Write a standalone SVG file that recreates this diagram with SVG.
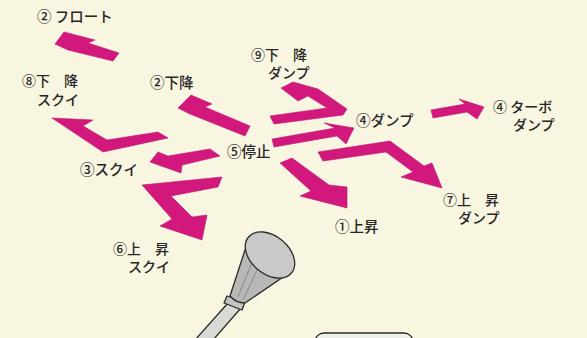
<svg xmlns="http://www.w3.org/2000/svg" width="587" height="338" viewBox="0 0 587 338">
  <style>
    .lbl { font-family: "Noto Sans CJK JP", "Noto Sans", sans-serif; font-size: 14.5px; font-weight: 500; fill: #262626; }
    .two { font-size: 14px; }
    .arw { fill: #d2177d; stroke: #c0146f; stroke-width: 0.6; stroke-linejoin: miter; }
    .ink { stroke: #2b2b2b; stroke-width: 1.3; stroke-linejoin: round; }
  </style>
  <rect width="587" height="338" fill="#f8f5e0"/>

  <!-- shift-lever movement arrows -->
  <g id="connectors">
    <polygon id="arrow-float" class="arw" points="55,44 64,32 95,40 88,43 119,53 113,61 68,50"/>
    <polygon id="arrow-lower" class="arw" points="178,108 191,95 212,104 205,107 250,126 245,136 190,114"/>
    <polygon id="arrow-lower-scoop" class="arw" points="52,118 93,120 83,126 107,140 158,132 168,138 103,152"/>
    <polygon id="arrow-scoop" class="arw" points="150,162 158,152 168,156 210,149 220,156 182,165 181,173"/>
    <polygon id="arrow-raise-scoop" class="arw" points="222,177 142,185 172,219 160,226 202,240 207,215 192,217 171,196 218,187"/>
    <polygon id="arrow-raise" class="arw" points="280,163 292,158 329,185 347,187 347,208 300,196 311,191"/>
    <polygon id="arrow-lower-dump" class="arw" points="281,88 293,82 318,89 347,109 343,115 274,124 270,116 327,108 308,96 298,101"/>
    <polygon id="arrow-dump" class="arw" points="272,139 335,128 324,123 354,128 346,144 337,136 274,147"/>
    <polygon id="arrow-raise-dump" class="arw" points="318,152 390,141 424,166 432,163 442,188 401,177 413,172 386,152 323,161"/>
    <polygon id="arrow-turbo-dump" class="arw" points="431,110 465,104 459,99 484,107 477,119 467,112 433,118"/>
  </g>

  <g id="node-float"><text class="lbl" x="37" y="22">② フロート</text></g>
  <g id="node-lower-scoop">
    <text class="lbl two" x="22" y="86">⑧下　降</text>
    <text class="lbl two" x="37" y="105">スクイ</text>
  </g>
  <g id="node-lower"><text class="lbl" x="150" y="88">②下降</text></g>
  <g id="node-lower-dump">
    <text class="lbl two" x="251" y="60">⑨下　降</text>
    <text class="lbl two" x="268" y="78">ダンプ</text>
  </g>
  <g id="node-dump"><text class="lbl" x="356" y="126">④ダンプ</text></g>
  <g id="node-turbo-dump">
    <text class="lbl two" x="493" y="112">④ ターボ</text>
    <text class="lbl two" x="513" y="130">ダンプ</text>
  </g>
  <g id="node-stop"><text class="lbl" x="227" y="157">⑤停止</text></g>
  <g id="node-scoop"><text class="lbl" x="80" y="175">③スクイ</text></g>
  <g id="node-raise-dump">
    <text class="lbl two" x="443" y="205">⑦上　昇</text>
    <text class="lbl two" x="458" y="223">ダンプ</text>
  </g>
  <g id="node-raise"><text class="lbl" x="335" y="232">①上昇</text></g>
  <g id="node-raise-scoop">
    <text class="lbl two" x="113" y="254">⑥上　昇</text>
    <text class="lbl two" x="128" y="272">スクイ</text>
  </g>

  <!-- control lever with knob -->
  <g id="lever">
    <polygon class="ink" fill="#d9d9d6" points="228,303 241,308 213,340 195,340"/>
    <path class="ink" fill="#c4c4c2" d="M227,296 L245,302 L242,310 L224,303 Z"/>
    <path class="ink" fill="#b8b8b6" d="M246,247 L230,296 Q236,303 245,303 L292,271 Z"/>
    <path d="M252,262 L238,297 M259,266 L243,300" stroke="#8a8a88" stroke-width="1" fill="none"/>
    <ellipse class="ink" cx="270" cy="255" rx="28" ry="19" transform="rotate(40 270 255)" fill="#c9c9c7"/>
  </g>

  <!-- panel edge at bottom -->
  <rect id="panel" class="ink" x="315" y="333" width="98" height="22" rx="9" fill="#eef0ea"/>
</svg>
